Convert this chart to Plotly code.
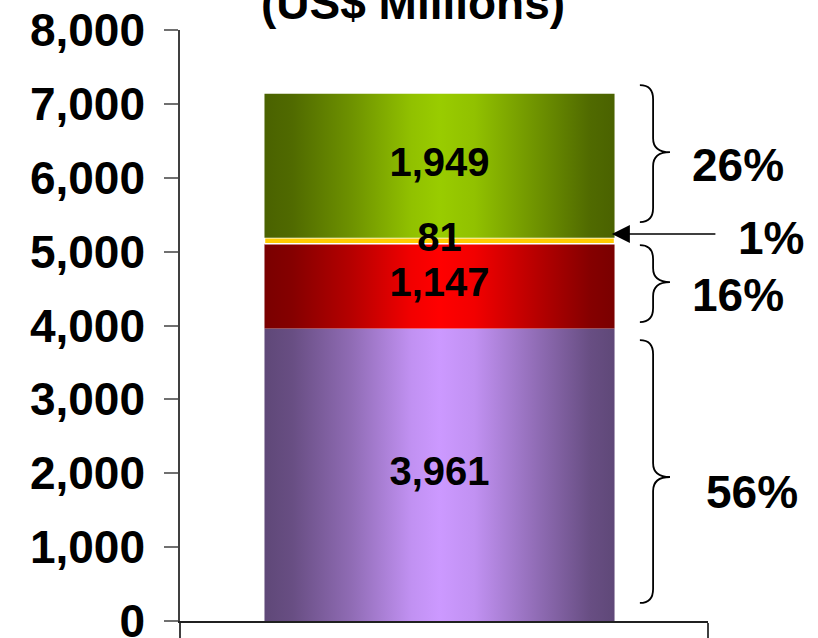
import plotly.graph_objects as go
import numpy as np

# ---- data ----
segment_names = ["Segment 1", "Segment 2", "Segment 3", "Segment 4"]
values = [3961, 1147, 81, 1949]
value_labels = ["3,961", "1,147", "81", "1,949"]
percent_labels = ["56%", "16%", "1%", "26%"]
y_ticks = [0, 1000, 2000, 3000, 4000, 5000, 6000, 7000, 8000]
title_text = "(US$ Millions)"

# ---- styles ----
edge_colors = ["#5f4878", "#7a0000", "#ffcc00", "#4a6200"]
mid_colors = ["#cc99ff", "#ff0000", "#ffcc00", "#99cc00"]
border_widths = [0, 0, 1.5, 0]
FONT = "Liberation Sans, Arial, sans-serif"
bar_center = -0.0085
bar_width = 0.663

bases = np.concatenate([[0], np.cumsum(values)[:-1]])
tops = np.cumsum(values)
x0 = bar_center - bar_width / 2
x1 = bar_center + bar_width / 2


def blend(c1, c2, f):
    a = [int(c1[k:k + 2], 16) for k in (1, 3, 5)]
    bb = [int(c2[k:k + 2], 16) for k in (1, 3, 5)]
    r = [round(a[j] + (bb[j] - a[j]) * f) for j in range(3)]
    return "#%02x%02x%02x" % tuple(r)


fig = go.Figure()

for i, (name, v, b, t) in enumerate(zip(segment_names, values, bases, tops)):
    edge, mid = edge_colors[i], mid_colors[i]
    kw = {}
    if edge != mid:
        kw["fillgradient"] = dict(type="horizontal", colorscale=[
            [0.0, edge],
            [0.08, blend(edge, mid, 0.08)],
            [0.25, blend(edge, mid, 0.45)],
            [0.42, blend(edge, mid, 0.9)],
            [0.5, mid],
            [0.6, blend(edge, mid, 0.9)],
            [0.78, blend(edge, mid, 0.45)],
            [0.93, blend(edge, mid, 0.08)],
            [1.0, edge],
        ])
    bw = border_widths[i]
    fig.add_trace(go.Scatter(
        x=[x0, x1, x1, x0, x0],
        y=[b, b, t, t, b],
        mode="lines",
        fill="toself",
        fillcolor=mid,
        line=dict(color="white" if bw > 0 else "rgba(0,0,0,0)", width=bw),
        name=name,
        hoverinfo="skip",
        showlegend=False,
        **kw,
    ))

# value labels at segment centers
fig.add_trace(go.Scatter(
    x=[bar_center] * len(values),
    y=[b + v / 2 for b, v in zip(bases, values)],
    mode="text",
    text=value_labels,
    textfont=dict(family=FONT, size=40, color="black", weight="bold"),
    hoverinfo="skip",
    showlegend=False,
))

annotations = []
# title (partly cut off at top, as in the original)
annotations.append(dict(text=title_text, xref="paper", yref="paper", x=0.441, y=1,
                        xanchor="center", yanchor="bottom", yshift=-1, showarrow=False,
                        font=dict(family=FONT, size=46, color="black", weight="bold")))

# percentage labels (positions in paper-x / data-y)
pct_pos = [(1.083, 1746), (1.057, 4411), (1.12, 5183), (1.057, 6170)]
for lab, (px, py) in zip(percent_labels, pct_pos):
    annotations.append(dict(text=lab, xref="paper", yref="y", x=px, y=py,
                            xanchor="center", yanchor="middle", showarrow=False,
                            font=dict(family=FONT, size=46, color="black", weight="bold")))

# arrow pointing at the thin segment
annotations.append(dict(text="", xref="paper", yref="y", x=0.818, y=tops[2] + 50,
                        ax=105, ay=0, showarrow=True, arrowhead=2, arrowsize=2.4,
                        arrowwidth=1.5, arrowcolor="black", standoff=0))

# curly braces
shapes = []
brace_specs = [(3802, 244, 1949), (5088, 4046, 4587), (7253, 5399, 6346)]
bx0, bx1, bx2 = 0.871, 0.896, 0.928
r = 190
for top, bot, tip in brace_specs:
    path = (f"M {bx0},{top} Q {bx1},{top} {bx1},{top - r} "
            f"L {bx1},{tip + r} Q {bx1},{tip} {bx2},{tip} "
            f"Q {bx1},{tip} {bx1},{tip - r} "
            f"L {bx1},{bot + r} Q {bx1},{bot} {bx0},{bot}")
    shapes.append(dict(type="path", xref="paper", yref="y", path=path,
                       line=dict(color="black", width=1.8)))

fig.update_layout(
    width=818, height=638,
    margin=dict(l=180, r=110, t=30, b=17),
    plot_bgcolor="white", paper_bgcolor="white",
    showlegend=False,
    annotations=annotations,
    shapes=shapes,
    xaxis=dict(range=[-0.5, 0.5], tickvals=[-0.5, 0.5], showticklabels=False,
               ticks="outside", ticklen=17, tickcolor="#404040", tickwidth=1.5,
               showline=True, linecolor="#202020", linewidth=1.5, automargin=False,
               showgrid=False, zeroline=False, fixedrange=True),
    yaxis=dict(range=[0, 8000], tickvals=y_ticks, tickformat=",",
               ticks="outside", ticklen=14, tickcolor="#707070", tickwidth=1.5,
               showline=True, linecolor="#404040", linewidth=1.5, automargin=False,
               showgrid=False, zeroline=False, ticklabelstandoff=10,
               ticklabeloverflow="allow",
               tickfont=dict(family=FONT, size=46, color="black", weight="bold"),
               fixedrange=True),
)

fig.write_html("out.html")
